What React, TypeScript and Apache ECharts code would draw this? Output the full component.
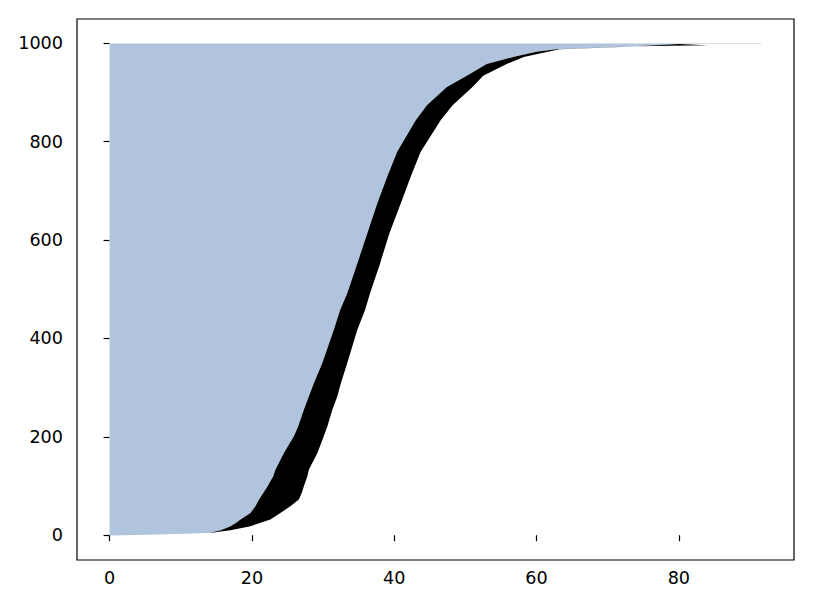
import React, { useEffect, useRef } from "react";
import * as echarts from "echarts";

const levelY = [
  -0.4, 1.5, 4.9, 7.5, 10.1, 11.6, 18.3, 25.2, 31.8, 45.4, 58.8, 72.4, 86, 99.4, 120, 133,
  153, 167, 201, 221, 255, 282, 309, 350, 417, 458, 492, 552, 613, 674, 728, 779, 843,
  874, 911, 934, 958, 972, 983, 988, 992, 994, 996, 998.5, 998.6, 999.4,
];
// Right end of the light blue bars at each level
const blueX = [
  0, 7, 14.2, 14.9, 15.6, 15.9, 17.0, 17.8, 18.4, 19.8, 20.5, 21.0, 21.6, 22.2, 23.0, 23.3,
  24.0, 24.5, 25.9, 26.5, 27.3, 28.0, 28.7, 29.9, 31.5, 32.4, 33.4, 34.8, 36.2, 37.6, 39.0, 40.4, 43.0,
  44.6, 47.4, 50.2, 53.0, 56.7, 60.0, 62.8, 70.3, 74.0, 76.8, 80.0, 91.6, 91.6,
];
// Right end of the black segments at each level
const blackX = [
  0, 7, 14.4, 15.6, 17.0, 17.5, 19.8, 21.2, 22.6, 24.0, 25.4, 26.6, 27.0, 27.3, 27.8, 28.0,
  28.7, 29.2, 30.1, 30.6, 31.3, 32.0, 32.5, 33.4, 34.8, 35.9, 36.6, 38.0, 39.3, 40.9, 42.3, 43.7, 46.5,
  48.2, 51.0, 52.5, 55.8, 58.2, 61.6, 63.3, 70.8, 74.1, 84.0, 80.0, 91.6, 91.6,
];

const xTicks = [0, 20, 40, 60, 80];
const yTicks = [0, 200, 400, 600, 800, 1000];

export default function App() {
  const ref = useRef<HTMLDivElement>(null);
  useEffect(() => {
    const chart = echarts.init(ref.current!, null, { renderer: "svg" });
    const data = levelY.map((y, i) => [blueX[i], blackX[i], y]);
    const font = "DejaVu Sans";
    chart.setOption({
      animation: false,
      grid: {
        left: 77,
        right: 20,
        top: 19,
        bottom: 50,
        show: true,
        borderColor: "#000",
        borderWidth: 1.2,
        backgroundColor: "transparent",
      },
      xAxis: {
        type: "value",
        min: -4.58,
        max: 96.18,
        axisLine: { show: false },
        splitLine: { show: false },
        axisTick: { show: true, length: 6, lineStyle: { color: "#000", width: 1.2 }, customValues: xTicks },
        axisLabel: {
          customValues: xTicks,
          color: "#000",
          fontSize: 17.6,
          fontFamily: font,
          margin: 9,
          formatter: (v: number) => String(v),
        },
      },
      yAxis: {
        type: "value",
        min: -50.4,
        max: 1049.4,
        axisLine: { show: false },
        splitLine: { show: false },
        axisTick: { show: true, length: 6, lineStyle: { color: "#000", width: 1.2 }, customValues: yTicks },
        axisLabel: {
          customValues: yTicks,
          color: "#000",
          fontSize: 17.6,
          fontFamily: font,
          margin: 14,
          formatter: (v: number) => String(v),
        },
      },
      series: [
        {
          type: "custom",
          data,
          encode: { x: [0, 1], y: 2 },
          clip: true,
          renderItem: (params: any, api: any) => {
            if (params.dataIndex !== 0) return null;
            const bluePts: number[][] = [api.coord([0, levelY[0]])];
            for (let i = 0; i < levelY.length; i++) bluePts.push(api.coord([blueX[i], levelY[i]]));
            bluePts.push(api.coord([0, levelY[levelY.length - 1]]));
            const blackPts: number[][] = [];
            for (let i = 0; i < levelY.length; i++) blackPts.push(api.coord([blueX[i], levelY[i]]));
            for (let i = levelY.length - 1; i >= 0; i--) blackPts.push(api.coord([blackX[i], levelY[i]]));
            return {
              type: "group",
              children: [
                { type: "polygon", shape: { points: bluePts }, style: { fill: "#B0C4DE" } },
                { type: "polygon", shape: { points: blackPts }, style: { fill: "#000" } },
              ],
            };
          },
        },
      ],
    });
    return () => chart.dispose();
  }, []);
  return (
    <div
      ref={ref}
      style={{ position: "fixed", left: 0, top: 0, width: 814, height: 610, background: "#fff" }}
    />
  );
}
